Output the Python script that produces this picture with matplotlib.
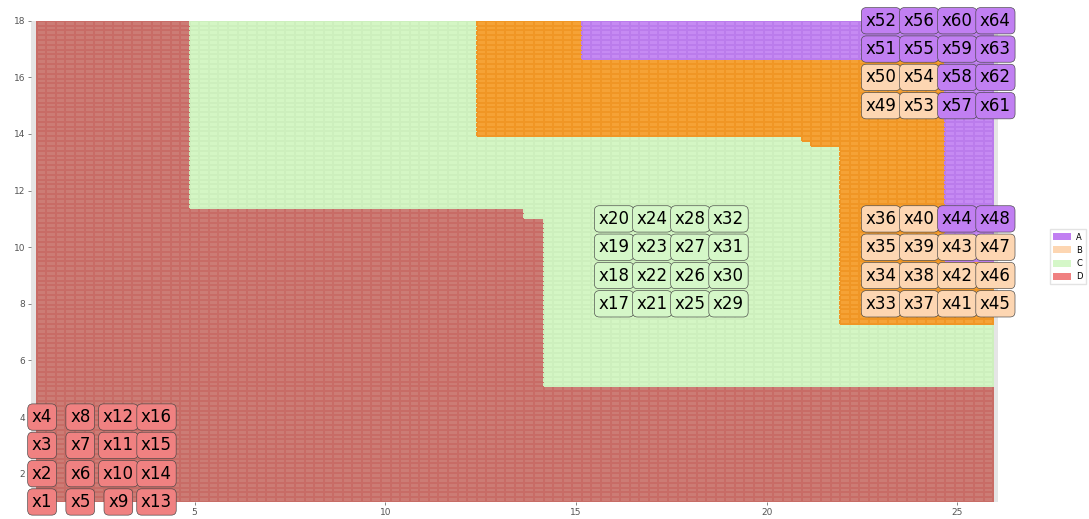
import numpy as np
import matplotlib
matplotlib.use("Agg")
import matplotlib.pyplot as plt
from matplotlib.patches import Patch
from matplotlib.colors import ListedColormap

# classes
classes = ['A', 'B', 'C', 'D']
tile_colors = {'A': '#c68af3', 'B': '#f5a236', 'C': '#d4f6c4', 'D': '#cc7c75'}
edge_colors = {'A': '#bb7cec', 'B': '#f09625', 'C': '#cdefbd', 'D': '#c86c66'}
label_colors = {'A': '#c17ff2', 'B': '#fdd6b2', 'C': '#d5f7c8', 'D': '#f08181'}

# labelled points
pt_x = [1, 1, 1, 1, 2, 2, 2, 2, 3, 3, 3, 3, 4, 4, 4, 4,
        16, 16, 16, 16, 17, 17, 17, 17, 18, 18, 18, 18, 19, 19, 19, 19,
        23, 23, 23, 23, 24, 24, 24, 24, 25, 25, 25, 25, 26, 26, 26, 26,
        23, 23, 23, 23, 24, 24, 24, 24, 25, 25, 25, 25, 26, 26, 26, 26]
pt_y = [1, 2, 3, 4, 1, 2, 3, 4, 1, 2, 3, 4, 1, 2, 3, 4,
        8, 9, 10, 11, 8, 9, 10, 11, 8, 9, 10, 11, 8, 9, 10, 11,
        8, 9, 10, 11, 8, 9, 10, 11, 8, 9, 10, 11, 8, 9, 10, 11,
        15, 16, 17, 18, 15, 16, 17, 18, 15, 16, 17, 18, 15, 16, 17, 18]
pt_class = (['D'] * 16 + ['C'] * 16 +
            ['B'] * 11 + ['A'] + ['B'] * 3 + ['A'] +
            ['B', 'B', 'A', 'A', 'B', 'B', 'A', 'A'] + ['A'] * 8)
pt_names = ['x%d' % (i + 1) for i in range(64)]

# decision regions (step boundaries)
d_breaks = [4.85, 13.45, 13.75, 14.13]
d_tops = [18.5, 11.45, 11.3, 11.1, 5.0]
b_left = 12.4
b_breaks = [20.9, 21.25, 21.6, 21.93]
b_bottoms = [13.93, 13.8, 13.65, 13.5, 7.33]
a_top_left, a_top_bottom = 15.15, 16.63
a_right_left, a_right_bottom = 24.65, 9.47

# tile grid
gx = np.linspace(0.86, 25.94, 101)
gy = np.linspace(1.0, 18.0, 101)
cx = (gx[:-1] + gx[1:]) / 2
cy = (gy[:-1] + gy[1:]) / 2
CX, CY = np.meshgrid(cx, cy)

grid = np.full(CX.shape, 2)  # C
d_top = np.array(d_tops)[np.searchsorted(d_breaks, CX, side='right')]
grid[CY < d_top] = 3
b_bot = np.array(b_bottoms)[np.searchsorted(b_breaks, CX, side='right')]
grid[(CX >= b_left) & (CY >= b_bot)] = 1
grid[((CX >= a_top_left) & (CY >= a_top_bottom)) |
     ((CX >= a_right_left) & (CY >= a_right_bottom))] = 0

fig = plt.figure(figsize=(10.89, 5.19), dpi=100)
ax = fig.add_axes([0.0285, 0.0328, 0.8880, 0.9272])
ax.set_facecolor('#e5e5e5')

cmap = ListedColormap([tile_colors[c] for c in classes])
mesh = ax.pcolormesh(gx, gy, grid, cmap=cmap, vmin=-0.5, vmax=3.5, linewidth=0.1)
mesh.set_edgecolor([edge_colors[classes[v]] for v in grid.ravel()])

for name, x, y, c in zip(pt_names, pt_x, pt_y, pt_class):
    ax.text(x, y, name, ha='center', va='center', fontsize=12,
            color='black', clip_on=False, zorder=5,
            bbox=dict(boxstyle='round,pad=0.25,rounding_size=0.3',
                      fc=label_colors[c], ec='#444444', lw=0.45))

ax.set_xlim(0.71, 26.07)
ax.set_ylim(1.0, 18.0)
ax.set_xticks([5, 10, 15, 20, 25])
ax.set_yticks([2, 4, 6, 8, 10, 12, 14, 16, 18])
ax.tick_params(labelsize=6.5, colors='#555555', length=2, width=0.5, pad=2)
for s in ax.spines.values():
    s.set_visible(False)

handles = [Patch(facecolor=label_colors[c], edgecolor='none', label=c) for c in classes]
fig.legend(handles=handles, loc='center left', bbox_to_anchor=(0.960, 0.505),
           fontsize=6, frameon=True, edgecolor='#dddddd', fancybox=False,
           handlelength=2.2, handleheight=0.9, labelspacing=0.5,
           borderpad=0.4, handletextpad=0.6)

fig.savefig('out.png', dpi=100)
